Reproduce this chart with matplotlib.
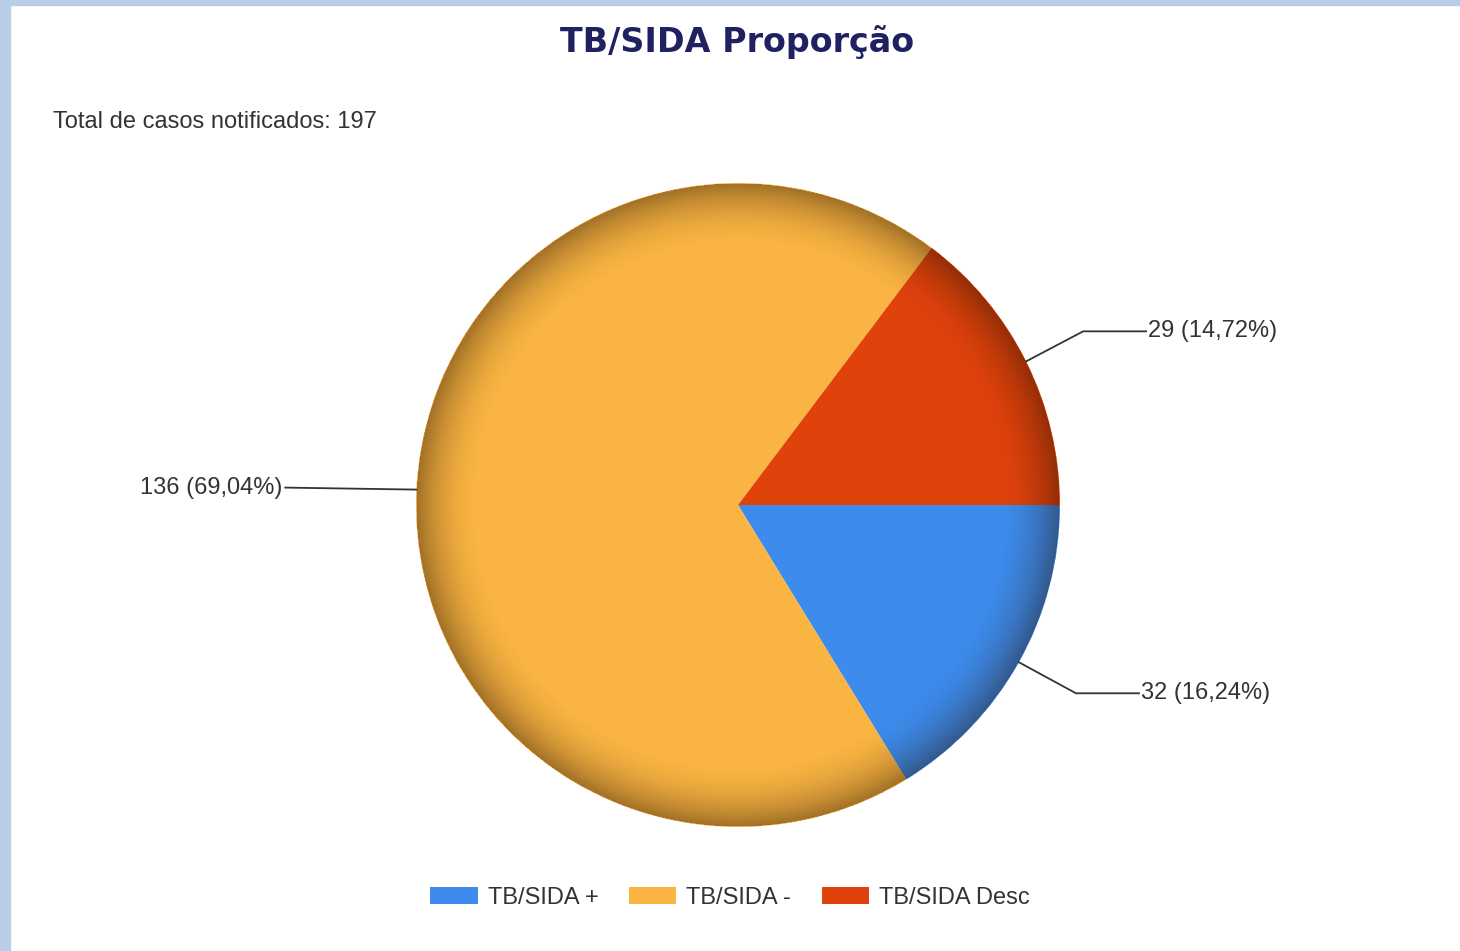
import numpy as np
import matplotlib
matplotlib.use("Agg")
import matplotlib.pyplot as plt
from matplotlib.patches import Rectangle, Circle, Patch

# Data
categories = ["TB/SIDA +", "TB/SIDA -", "TB/SIDA Desc"]
counts = [32, 136, 29]
pct_labels = ["16,24%", "69,04%", "14,72%"]
colors = ["#3d8bec", "#f9b442", "#e0420c"]
title = "TB/SIDA Proporção"
subtitle = "Total de casos notificados: 197"

W, H = 1460, 951
fig = plt.figure(figsize=(W / 100, H / 100), dpi=100)
fig.patch.set_facecolor("white")
ax = fig.add_axes([0, 0, 1, 1])

# page frame
border = "#b8cde6"
ax.add_patch(Rectangle((0, 0), 10, H, color=border, zorder=0))
ax.add_patch(Rectangle((0, H - 5), W, 5, color=border, zorder=0))

cx, cy, R = 738, 446, 322
wedges, _ = ax.pie(counts, colors=colors, startangle=0, counterclock=False,
                   center=(cx, cy), radius=R, frame=True,
                   wedgeprops=dict(linewidth=0))
ax.set_xlim(0, W)
ax.set_ylim(0, H)
ax.set_aspect("equal")
ax.axis("off")

# radial shading to imitate the beveled look
n = 700
xs = np.linspace(cx - R, cx + R, n)
ys = np.linspace(cy - R, cy + R, n)
X, Y = np.meshgrid(xs, ys)
r = np.sqrt((X - cx) ** 2 + (Y - cy) ** 2) / R
alpha = np.clip((r - 0.80) / 0.20, 0, 1) ** 2.0 * 0.42
alpha[r > 1] = 0
img = np.zeros((n, n, 4))
img[..., 0] = 0.15
img[..., 1] = 0.07
img[..., 3] = alpha
circ = Circle((cx, cy), R, transform=ax.transData, facecolor="none", edgecolor="none")
ax.add_patch(circ)
im = ax.imshow(img, extent=(cx - R, cx + R, cy - R, cy + R), origin="lower",
               zorder=5, interpolation="bilinear")
im.set_clip_path(circ)
ax.set_xlim(0, W)
ax.set_ylim(0, H)

# labels with leader lines
label_font = dict(family=["Liberation Sans", "DejaVu Sans"], fontsize=17, color="#333333")
for w, c, p in zip(wedges, counts, pct_labels):
    ang = np.deg2rad((w.theta1 + w.theta2) / 2)
    x0, y0 = cx + R * np.cos(ang), cy + R * np.sin(ang)
    txt = f"{c} ({p})"
    if np.cos(ang) > 0:
        x1, y1 = x0 + 57, y0 + (30 if np.sin(ang) > 0 else -31)
        x2 = x1 + 63
        ax.plot([x0, x1, x2], [y0, y1, y1], color="#333333", lw=1.3, zorder=6)
        ax.text(x2 + 2, y1, txt, ha="left", va="center", **label_font)
    else:
        x2 = x0 - 131
        ax.plot([x0, x2], [y0, y0 + 2], color="#333333", lw=1.3, zorder=6)
        ax.text(x2 - 3, y0 + 2, txt, ha="right", va="center", **label_font)

# title & subtitle
ax.text(737, 951 - 42, title, ha="center", va="center", fontsize=24,
        fontweight="bold", color="#1f2160", family=["DejaVu Sans"])
ax.text(53, 951 - 122, subtitle, ha="left", va="center", **label_font)

# legend
handles = [Patch(facecolor=col, edgecolor="none") for col in colors]
leg = fig.legend(handles, categories, loc="center", bbox_to_anchor=(730 / W, 1 - 898 / H),
                 ncol=3, frameon=False, handlelength=2.0, handleheight=0.7,
                 handletextpad=0.42, columnspacing=1.3,
                 prop=dict(family="Liberation Sans", size=17))
for t in leg.get_texts():
    t.set_color("#333333")

fig.savefig("out.png", dpi=100, facecolor="white")
